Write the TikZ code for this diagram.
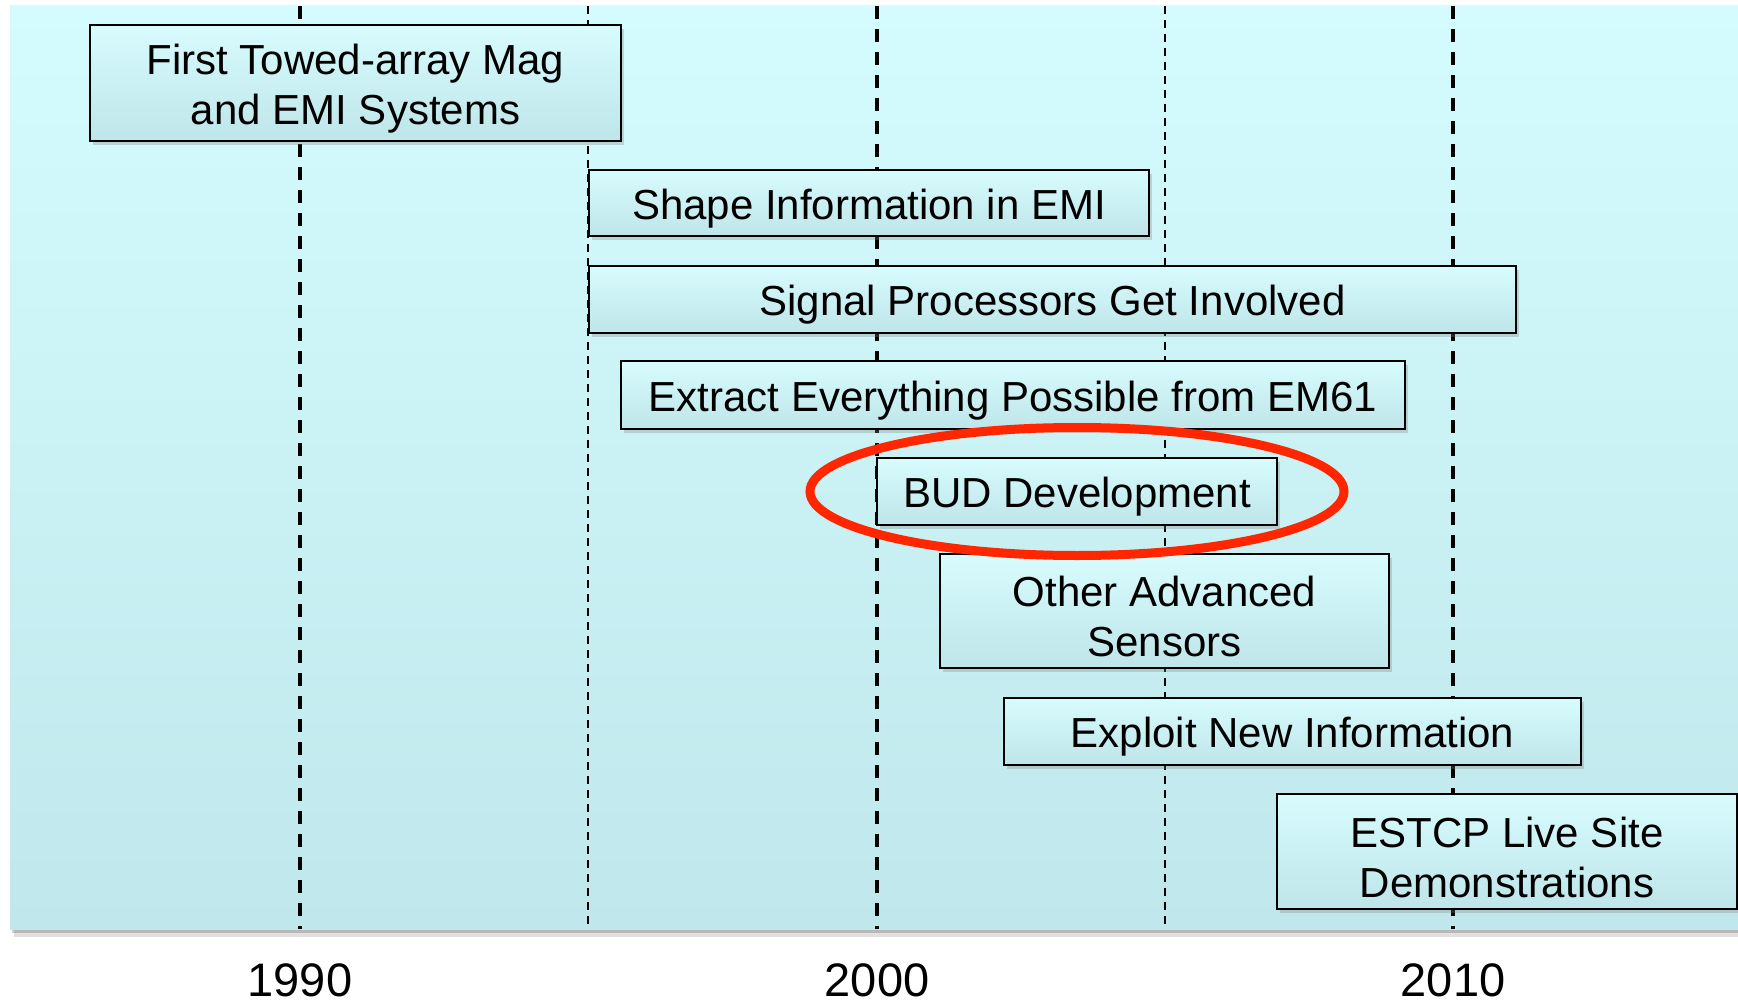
\documentclass[tikz,border=0pt]{standalone}
\usepackage{fontspec}
\setmainfont{Liberation Sans}
\usepackage{tikz}
\usetikzlibrary{shadows}
\definecolor{paneltop}{RGB}{212,251,253}
\definecolor{panelbot}{RGB}{192,232,236}
\definecolor{boxtop}{RGB}{216,252,254}
\definecolor{boxbot}{RGB}{190,229,233}
\definecolor{ringred}{RGB}{255,38,0}
\tikzset{
  bartext/.style={align=center,inner sep=0pt,yshift=-2.8pt,font=\fontsize{21}{25}\selectfont},
  bar/.style={draw=black,line width=1.2pt,top color=boxtop,bottom color=boxbot,
    inner sep=0pt,label={[bartext]center:#1},
    drop shadow={shadow xshift=1.5pt,shadow yshift=-2pt,opacity=0.3}},
  yearmain/.style={line width=1.6pt,dash pattern=on 6.5pt off 5pt},
  yearhalf/.style={line width=1.1pt,dash pattern=on 4pt off 3pt},
  yearlabel/.style={font=\fontsize{23.5}{28}\selectfont}
}
\begin{document}
\begin{tikzpicture}[x=0.5pt,y=-0.5pt]
\useasboundingbox (0,0) rectangle (1738,1005);
\fill[black,opacity=0.12] (14,12) rectangle (1745,937);
\fill[black,opacity=0.18] (12,9) rectangle (1745,933);
\shade[top color=paneltop,bottom color=panelbot] (10,6) rectangle (1745,929);
\draw[yearmain] (300,6) -- (300,929);
\draw[yearhalf] (588,6) -- (588,929);
\draw[yearmain] (877,6) -- (877,929);
\draw[yearhalf] (1165,6) -- (1165,929);
\draw[yearmain] (1453,6) -- (1453,929);
\node[yearlabel] (y1990) at (300,980) {1990};
\node[yearlabel] (y2000) at (877,980) {2000};
\node[yearlabel] (y2010) at (1453,980) {2010};
\node[bar={First Towed-array Mag\\and EMI Systems},minimum width=265.5pt,minimum height=58pt] (towed) at (355.5,83) {};
\node[bar={Shape Information in EMI},minimum width=280pt,minimum height=33pt] (shape) at (869,203) {};
\node[bar={Signal Processors Get Involved},minimum width=463.5pt,minimum height=33.5pt] (signal) at (1052.5,299.5) {};
\node[bar={Extract Everything Possible from EM61},minimum width=392pt,minimum height=34pt] (extract) at (1013,395) {};
\node[bar={BUD Development},minimum width=200pt,minimum height=33.5pt] (bud) at (1077,491.5) {};
\node[bar={Other Advanced\\Sensors},minimum width=224.5pt,minimum height=57pt] (sensors) at (1164.5,611) {};
\node[bar={Exploit New Information},minimum width=288.5pt,minimum height=33.5pt] (exploit) at (1292.5,731.5) {};
\node[bar={ESTCP Live Site\\Demonstrations},minimum width=230pt,minimum height=57.5pt] (estcp) at (1507,851.5) {};
\draw[ringred,line width=4.5pt] (bud.center) ellipse [x radius=267,y radius=64];
\end{tikzpicture}
\end{document}
